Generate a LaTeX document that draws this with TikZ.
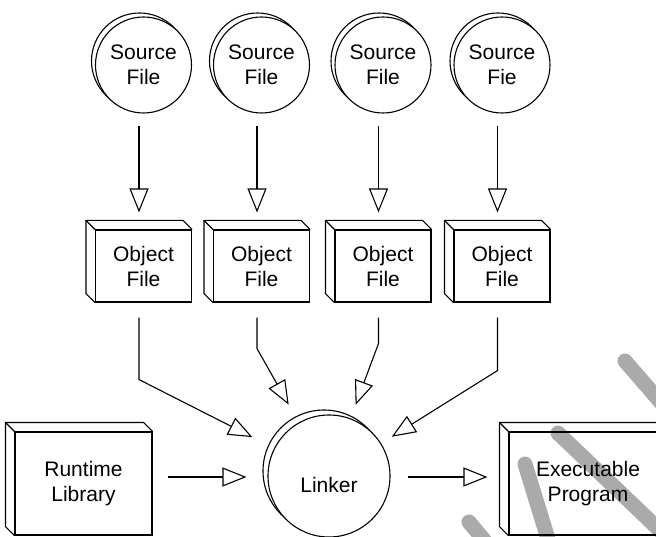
\documentclass[tikz,border=0pt]{standalone}
\usepackage{fontspec}
\setmainfont{Liberation Sans}
\usetikzlibrary{arrows.meta}
\definecolor{wmark}{RGB}{170,170,170}

% left and top faces of a box drawn as a front rectangle node
\newcommand\cubeside[1]{%
  \draw (#1.south west) -- ++(-9,-9) -- ([shift={(-9,-9)}]#1.north west)
        -- ([shift={(-9,-9)}]#1.north east) -- (#1.north east);
  \draw ([shift={(-9,-9)}]#1.north west) -- (#1.north west);}

\begin{document}
\begin{tikzpicture}[x=1pt, y=-1pt, line width=1.1pt,
  every node/.style={font=\fontsize{21pt}{25pt}\selectfont, align=center, inner sep=0pt},
  srcfile/.style={circle, draw, fill=white, minimum size=96pt,
    preaction={draw, fill=white, transform canvas={shift={(-4pt,4pt)}}}},
  linker/.style={circle, draw, fill=white, minimum size=122pt,
    preaction={draw, fill=white, transform canvas={shift={(-5pt,5pt)}}}},
  objbox/.style={draw, minimum width=96pt, minimum height=72pt},
  bigbox/.style={draw, minimum height=103pt},
  flow/.style={-{Triangle[open, length=24pt, width=19pt]}, line join=miter},
  stripe/.style={wmark, line width=15pt, line cap=round}]

\useasboundingbox (0,0) rectangle (656,537);
\clip (0,0) rectangle (656,537);

% watermark strokes
\draw[stripe] (625,361) -- (690,436);
\draw[stripe] (558,433) -- (670,540);
\draw[stripe] (525,464) -- (552,552);
\draw[stripe] (469,522) -- (495,553);

% source files
\node[srcfile] (s1) at (143.5,65) {Source\\File};
\node[srcfile] (s2) at (261.5,65) {Source\\File};
\node[srcfile] (s3) at (383,65)   {Source\\File};
\node[srcfile] (s4) at (502,65)   {Source\\Fie};

% object files
\node[objbox] (o1) at (143.5,266) {Object\\File};
\node[objbox] (o2) at (261.5,266) {Object\\File};
\node[objbox] (o3) at (383,266)   {Object\\File};
\node[objbox] (o4) at (502,266)   {Object\\File};
\cubeside{o1}\cubeside{o2}\cubeside{o3}\cubeside{o4}

% bottom row
\node[bigbox, minimum width=137pt] (rt) at (83.5,483.5) {Runtime\\Library};
\cubeside{rt}
\node[linker, label={[shift={(0,9)}]center:Linker}] (lk) at (329,476) {};
\node[bigbox, minimum width=158pt] (ex) at (588,483.5) {Executable\\Program};
\cubeside{ex}

% compile step
\foreach \i in {1,...,4}
  \draw[flow] ([shift={(-4.5,12)}]s\i.south) -- ([shift={(-4.5,-17)}]o\i.north);

% link step
\draw[flow, shorten >=86pt] ([shift={(-4.5,15)}]o1.south) -- ++(0,62) -- (lk.center);
\draw[flow, shorten >=82pt] ([shift={(-4.5,15)}]o2.south) -- ++(0,31) -- (lk.center);
\draw[flow, shorten >=76pt] ([shift={(-4.5,15)}]o3.south) -- ++(0,26) -- (lk.center);
\draw[flow, shorten >=74pt] ([shift={(-4.5,15)}]o4.south) -- ++(0,53) -- (lk.center);

\draw[flow] ([shift={(15,-6.5)}]rt.east) -- ([shift={(-21,1)}]lk.west);
\draw[flow] ([shift={(17,1)}]lk.east) -- ([shift={(-21,-6.5)}]ex.west);
\end{tikzpicture}
\end{document}
